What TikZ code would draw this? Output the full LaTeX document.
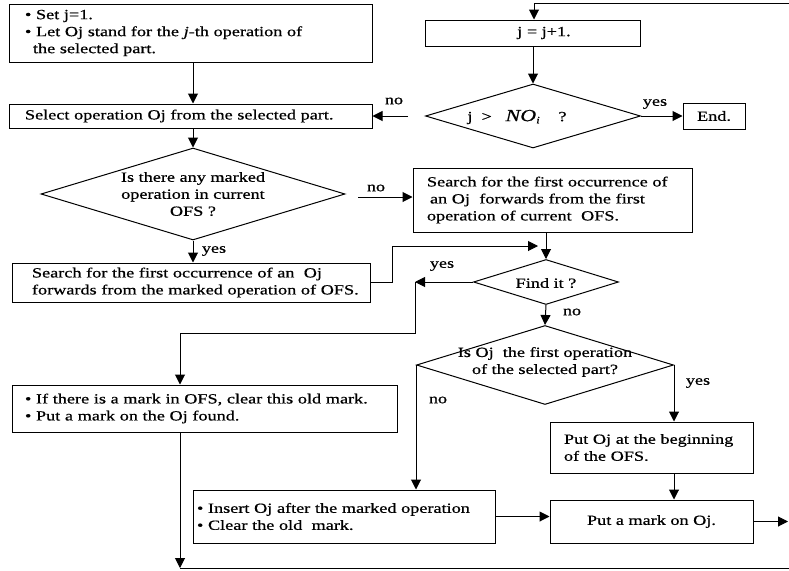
\documentclass[tikz,border=0pt]{standalone}
\usepackage{fontspec}
\setmainfont{Liberation Serif}[FakeStretch=1.3,FakeBold=0.6]
\usetikzlibrary{arrows.meta,shapes.geometric}
\begin{document}
\begin{tikzpicture}[x=1pt,y=-1pt,
  every node/.style={font=\fontsize{14}{17}\selectfont},
  box/.style={draw, rectangle, line width=1pt, inner sep=0pt},
  lbox/.style={box, align=left},
  dia/.style={draw, diamond, line width=1pt, inner sep=0pt},
  arr/.style={line width=1pt, -{Triangle[length=10pt,width=10pt]}},
  ln/.style={line width=1pt},
  lab/.style={inner sep=0pt, align=center}]
\fill[white] (0,0) rectangle (789,570);
\useasboundingbox (0,0) rectangle (789,570);

% boxes
\node[lbox, text width=331pt, inner xsep=16pt, minimum height=58pt] (b1) at (190.5,33)
  {\textbullet\ Set j=1.\\ \textbullet\ Let Oj stand for the \textit{j}-th operation of\\ \hspace*{8pt}the selected part.};
\node[lbox, text width=331pt, inner xsep=16pt, minimum height=24pt] (b2) at (190.5,116)
  {Select operation Oj from the selected part.};
\node[box, minimum width=215pt, minimum height=26pt] (b0) at (532.5,33) {};
\node[lab] (b0t) at (544,33) {j = j+1.};
\node[dia, minimum width=215pt, minimum height=64pt] (d0) at (533,116) {};
\node[lab] (d0t) at (517,117) {j\ \ >\ \ \ {\fontsize{17}{17}\selectfont\itshape NO}\textsubscript{\itshape i}\ \ \ \ ?};
\node[box, minimum width=62pt, minimum height=26pt] (end) at (714,116) {End.};

\node[dia, minimum width=304pt, minimum height=92pt] (d1) at (193,194) {};
\node[lab] (d1t) at (193,194) {Is there any marked\\operation in current\\OFS ?};
\node[lbox, text width=251pt, inner xsep=14pt, minimum height=64pt] (b3) at (552.5,200)
  {Search for the first occurrence of\\ \hspace*{3pt}an Oj\ \ forwards from the first\\operation of current\ \ OFS.};
\node[lbox, text width=358pt, inner xsep=0pt, minimum height=39pt] (b4) at (191,282.5)
  {\hspace*{20pt}Search for the first occurrence of an\ \ Oj\\ \hspace*{20pt}forwards from the marked operation of OFS.};

\node[dia, minimum width=145pt, minimum height=45pt] (d2) at (546,282) {};
\node[lab] (d2t) at (546,283) {Find it ?};
\node[dia, minimum width=257pt, minimum height=79pt] (d3) at (545,365) {};
\node[lab] (d3t) at (545,362) {Is Oj\ \ the first operation\\of the selected part?};

\node[lbox, text width=359pt, inner xsep=13pt, minimum height=47pt] (b5) at (204.5,408.5)
  {\textbullet\ If there is a mark in OFS, clear this old mark.\\ \textbullet\ Put a mark on the Oj found.};
\node[lbox, text width=294pt, inner xsep=4pt, minimum height=53pt] (b6) at (344,516.5)
  {\textbullet\ Insert Oj after the marked operation\\ \textbullet\ Clear the old\ \ mark.};
\node[lbox, text width=175pt, inner xsep=14pt, minimum height=51pt] (b7) at (651.5,447.5)
  {Put Oj at the beginning\\of the OFS.};
\node[box, minimum width=203pt, minimum height=43pt] (b8) at (651.5,521.5) {Put a mark on Oj.};

% labels
\node[lab] (l0no) at (394,101) {no};
\node[lab] (l0yes) at (655,104) {yes};
\node[lab] (l1no) at (376,188) {no};
\node[lab] (l1yes) at (214,251) {yes};
\node[lab] (l2yes) at (442,266) {yes};
\node[lab] (l2no) at (572,312) {no};
\node[lab] (l3yes) at (698,383) {yes};
\node[lab] (l3no) at (438,400) {no};

% coordinates
\coordinate (tr) at (789,3);
\coordinate (c0) at (534,3);
\coordinate (n0) at (408,116);
\coordinate (n1) at (358,197);
\coordinate (k1) at (392,246);
\coordinate (k2) at (538,246);
\coordinate (k3) at (415,282);
\coordinate (k4) at (180,333);
\coordinate (k5) at (788,522);
\coordinate (k6) at (180,568);
\coordinate (k7) at (789,568);

% connectors
\draw[arr] (tr) -- (c0) -- (c0 |- b0.north);
\draw[arr] (b0.south -| d0.north) -- (d0.north);
\draw[arr] (d0.east) -- (end.west);
\draw[arr] (n0) -- (b2.east);
\draw[arr] (b1.south -| d1.north) -- (b2.north -| d1.north);
\draw[arr] (b2.south -| d1.north) -- (d1.north);
\draw[arr] (d1.south) -- (d1.south |- b4.north);
\draw[arr] (n1) -- (n1 -| b3.west);
\draw[arr] (b3.south -| d2.north) -- (d2.north);
\draw[arr] (b4.east) -| (k1) -- (k2);
\draw[arr] (d2.west) -- (k3 |- d2.west);
\draw[ln] (k3) -- (k3 |- k4) -- (k4);
\draw[arr] (k4) -- (k4 |- b5.north);
\draw[arr] (d2.south) -- (d3.north);
\draw[arr] (d3.east) -- (d3.east |- b7.north);
\draw[arr] (d3.west) -- (d3.west |- b6.north);
\draw[arr] (b7.south -| d3.east) -- (b8.north -| d3.east);
\draw[arr] (b6.east) -- (b6.east -| b8.west);
\draw[arr] (b8.east) -- (b8.east -| k5);
\draw[arr] (b5.south -| k6) -- (k6);
\draw[ln] (k6) -- (k7);
\end{tikzpicture}
\end{document}
